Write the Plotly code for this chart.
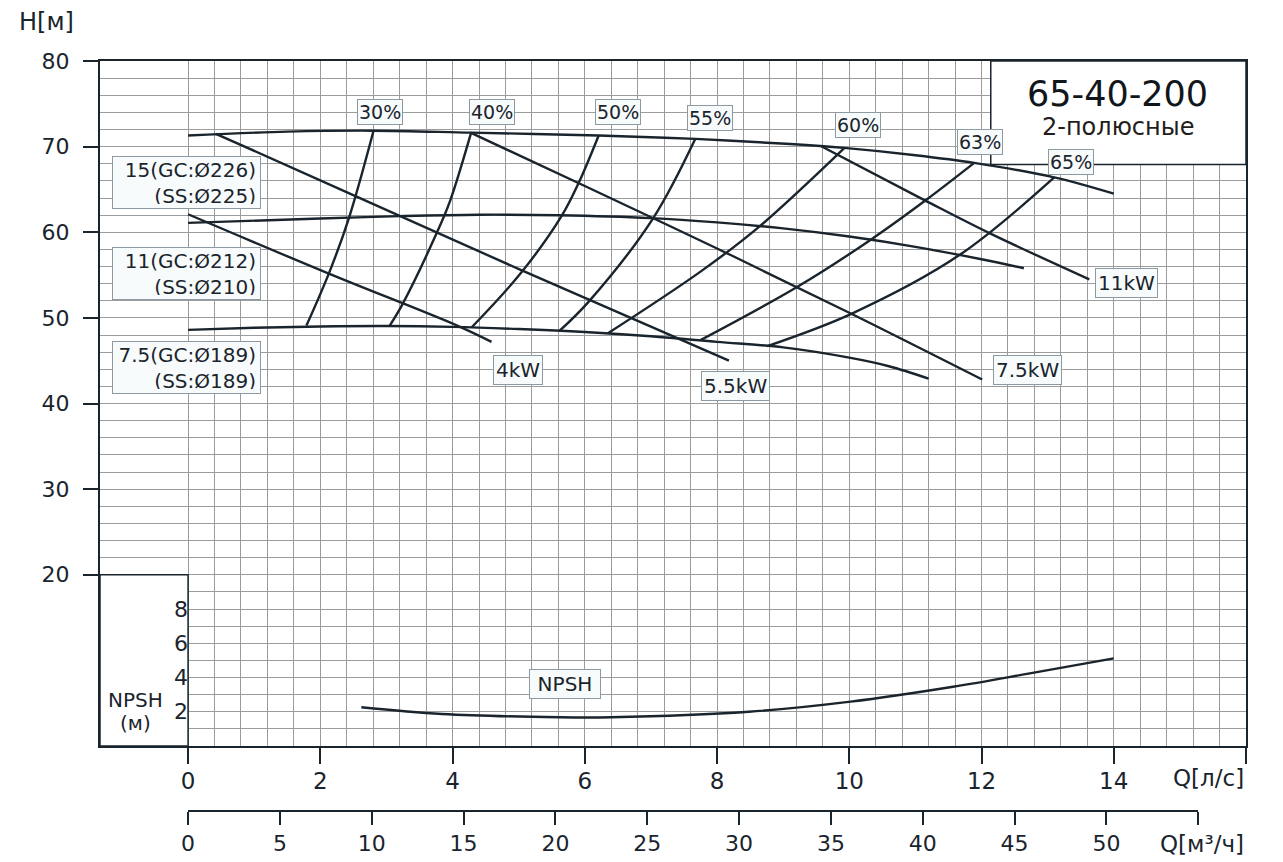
import plotly.graph_objects as go

# ---------------- data (Q in l/s, H in m) ----------------
q_d226 = [0, 1.5, 2.8, 4.28, 6.21, 7.67, 9.11, 9.92, 11.0, 11.89, 13.1, 14.0]
h_d226 = [71.3, 71.75, 71.86, 71.63, 71.3, 70.9, 70.3, 69.85, 69.0, 68.1, 66.4, 64.5]

q_d212 = [0, 2.0, 3.2, 4.4, 5.6, 7.0, 8.0, 9.0, 10.0, 11.0, 12.0, 12.64]
h_d212 = [61.1, 61.6, 61.88, 62.05, 61.98, 61.65, 61.15, 60.45, 59.5, 58.3, 56.85, 55.8]

q_d189 = [0, 1.0, 2.0, 3.0, 4.0, 5.0, 6.0, 7.0, 8.0, 9.0, 10.0, 10.6, 11.2]
h_d189 = [48.6, 48.85, 49.0, 49.05, 48.95, 48.7, 48.35, 47.85, 47.2, 46.55, 45.35, 44.35, 42.9]

q_p4 = [0, 2.12, 4.07, 4.59]
h_p4 = [62.1, 55.2, 49.1, 47.2]
q_p55 = [0.42, 2.54, 5.03, 8.18]
h_p55 = [71.5, 64.2, 55.6, 45.0]
q_p75 = [4.28, 6.0, 8.0, 10.0, 12.01]
h_p75 = [71.6, 65.4, 58.1, 50.6, 42.8]
q_p11 = [9.57, 11.15, 12.12, 13.63]
h_p11 = [70.07, 63.7, 59.9, 54.5]

q_e30 = [1.79, 2.13, 2.43, 2.805]
h_e30 = [49.1, 55.2, 61.6, 71.86]
q_e40 = [3.05, 3.25, 3.76, 3.96, 4.28]
h_e40 = [49.1, 51.7, 59.9, 63.6, 71.6]
q_e50 = [4.29, 5.03, 5.65, 5.91, 6.21]
h_e50 = [48.9, 55.2, 61.9, 65.8, 71.3]
q_e55 = [5.62, 6.06, 7.03, 7.67]
h_e55 = [48.5, 51.9, 61.6, 70.9]
q_e60 = [6.35, 7.75, 8.63, 9.92]
h_e60 = [48.2, 55.4, 60.6, 69.8]
q_e63 = [7.75, 9.21, 10.32, 11.15, 11.89]
h_e63 = [47.4, 53.6, 59.1, 63.7, 68.1]
q_e65 = [8.76, 10.04, 11.66, 13.1]
h_e65 = [46.7, 50.5, 57.3, 66.4]

q_npsh = [2.62, 3.84, 5.62, 6.39, 8.48, 10.02, 11.57, 12.73, 14.0]
v_npsh = [2.26, 1.87, 1.68, 1.68, 2.0, 2.59, 3.46, 4.24, 5.12]

eff_labels = ["30%", "40%", "50%", "55%", "60%", "63%", "65%"]
eff_label_q = [2.90, 4.59, 6.50, 7.89, 10.13, 11.98, 13.36]
eff_label_h = [74.1, 74.1, 74.1, 73.4, 72.5, 70.5, 68.25]

kw_labels = ["4kW", "5.5kW", "7.5kW", "11kW"]
kw_label_q = [4.99, 8.28, 12.69, 14.20]
kw_label_h = [43.95, 42.1, 43.97, 54.07]

imp_labels = ["15(GC:Ø226)<br>(SS:Ø225)", "11(GC:Ø212)<br>(SS:Ø210)", "7.5(GC:Ø189)<br>(SS:Ø189)"]
imp_label_h = [65.81, 55.18, 44.26]

x_ticks = [0, 2, 4, 6, 8, 10, 12, 14, 16]
x_ticktext = ["0", "2", "4", "6", "8", "10", "12", "14", ""]
x2_ticks = [0, 5, 10, 15, 20, 25, 30, 35, 40, 45, 50, 55]
x2_ticktext = ["0", "5", "10", "15", "20", "25", "30", "35", "40", "45", "50", ""]
y_ticks = [20, 30, 40, 50, 60, 70, 80]
npsh_ticks = [2, 4, 6, 8]

# ---------------- styling ----------------
INK = "#1a242d"
GRID = "#9c9c9c"
FONT = "DejaVu Sans"
XMIN, XMAX = -1.332, 16.0
YMIN, YMAX = 0, 80
M3H_MAX = 55
LPS_PER_M3H = 1 / 3.6

fig = go.Figure()

def curve(q, h, yaxis="y"):
    fig.add_trace(go.Scatter(x=q, y=h, mode="lines", yaxis=yaxis,
                             line=dict(color=INK, width=2.4, shape="spline", smoothing=1.0),
                             hoverinfo="skip", showlegend=False))

for q, h in [(q_d226, h_d226), (q_d212, h_d212), (q_d189, h_d189),
             (q_p4, h_p4), (q_p55, h_p55), (q_p75, h_p75), (q_p11, h_p11),
             (q_e30, h_e30), (q_e40, h_e40), (q_e50, h_e50), (q_e55, h_e55),
             (q_e60, h_e60), (q_e63, h_e63), (q_e65, h_e65)]:
    curve(q, h)

curve(q_npsh, v_npsh, yaxis="y2")

# dummy trace to host the m3/h axis
fig.add_trace(go.Scatter(x=[0, M3H_MAX], y=[-5, -5], xaxis="x2", yaxis="y3", mode="lines",
                         line=dict(width=0), hoverinfo="skip", showlegend=False))

# layout geometry
W, Hh = 1283, 862
ml, mr, mt, mb = 100, 37, 61, 51
plot_w = W - ml - mr
plot_h = Hh - mt - mb
y_dom0 = 65 / plot_h
q0_frac = (0 - XMIN) / (XMAX - XMIN)
q55_frac = (M3H_MAX * LPS_PER_M3H - XMIN) / (XMAX - XMIN)

minor_x = [round(0.4 * i, 2) for i in range(0, 41)]
minor_y = list(range(0, 81, 2))

fig.update_layout(
    width=W, height=Hh,
    margin=dict(l=ml, r=mr, t=mt, b=mb, autoexpand=False),
    paper_bgcolor="white", plot_bgcolor="rgba(0,0,0,0)",
    font=dict(family=FONT, color=INK),
    xaxis=dict(range=[XMIN, XMAX], domain=[0, 1], anchor="y", automargin=False,
               tickmode="array", tickvals=x_ticks, ticktext=x_ticktext,
               ticks="outside", ticklen=16, tickwidth=1.5, tickcolor=INK,
               ticklabelstandoff=-3,
               tickfont=dict(size=23, color=INK, family=FONT),
               showgrid=True, gridcolor=GRID, gridwidth=1,
               minor=dict(tickvals=minor_x, showgrid=True, gridcolor=GRID, gridwidth=1, ticks=""),
               showline=True, linecolor=INK, linewidth=2, mirror=True, zeroline=False),
    yaxis=dict(range=[YMIN, YMAX], domain=[y_dom0, 1], anchor="x", automargin=False,
               tickmode="array", tickvals=y_ticks,
               ticks="outside", ticklen=15, tickwidth=1.5, tickcolor=INK,
               ticklabelstandoff=9,
               tickfont=dict(size=22, color=INK, family=FONT),
               showgrid=True, gridcolor=GRID, gridwidth=1,
               minor=dict(tickvals=minor_y, showgrid=True, gridcolor=GRID, gridwidth=1, ticks=""),
               showline=True, linecolor=INK, linewidth=2, mirror=True, zeroline=False),
    yaxis2=dict(range=[0, 40], overlaying="y", anchor="free", position=q0_frac, side="left",
                automargin=False,
                tickmode="array", tickvals=npsh_ticks, ticks="",
                tickfont=dict(size=22, color=INK, family=FONT),
                showgrid=False, showline=False, zeroline=False),
    xaxis2=dict(range=[0, M3H_MAX], domain=[q0_frac, q55_frac], anchor="free", position=0,
                automargin=False,
                tickmode="array", tickvals=x2_ticks, ticktext=x2_ticktext,
                ticks="outside", ticklen=13, tickwidth=1.5, tickcolor=INK,
                tickfont=dict(size=22, color=INK, family=FONT),
                showgrid=False, showline=True, linecolor=INK, linewidth=2, zeroline=False),
    yaxis3=dict(range=[0, 1], domain=[y_dom0, 1], anchor="x2", visible=False, automargin=False),
)

# title box and NPSH box
fig.add_shape(type="rect", xref="x", yref="y", x0=12.14, x1=XMAX, y0=67.9, y1=YMAX,
              fillcolor="white", line=dict(color=INK, width=1.5), layer="between")
fig.add_shape(type="rect", xref="x", yref="y", x0=XMIN, x1=0, y0=0, y1=20,
              fillcolor="white", line=dict(color=INK, width=1.5), layer="between")

# annotations
ann = []
box = dict(bgcolor="#f8fbfb", bordercolor="#8d9aa1", borderwidth=1)
for t, q, h in zip(eff_labels, eff_label_q, eff_label_h):
    ann.append(dict(x=q, y=h, xref="x", yref="y", text=t, showarrow=False,
                    font=dict(size=19, color=INK, family=FONT), borderpad=1, **box))
for t, q, h in zip(kw_labels, kw_label_q, kw_label_h):
    ann.append(dict(x=q, y=h, xref="x", yref="y", text=t, showarrow=False,
                    font=dict(size=20, color=INK, family=FONT), borderpad=2, **box))
for t, h in zip(imp_labels, imp_label_h):
    ann.append(dict(x=-0.02, y=h, xref="x", yref="y", text=t, showarrow=False, align="right",
                    width=139, height=43, borderpad=4,
                    font=dict(size=20, color=INK, family=FONT), **box))
ann.append(dict(x=5.70, y=7.22, xref="x", yref="y", text="NPSH", showarrow=False,
                width=66, borderpad=2, font=dict(size=20, color=INK, family=FONT), **box))

ann.append(dict(x=14.06, y=76.1, xref="x", yref="y", text="65-40-200", showarrow=False,
                font=dict(size=35, color="#11161b", family=FONT)))
ann.append(dict(x=14.06, y=72.3, xref="x", yref="y", text="2-полюсные", showarrow=False,
                font=dict(size=24, color="#231c1a", family=FONT)))

ann.append(dict(x=-0.80, y=5.4, xref="x", yref="y", text="NPSH", showarrow=False,
                font=dict(size=20, color=INK, family=FONT)))
ann.append(dict(x=-0.80, y=2.7, xref="x", yref="y", text="(м)", showarrow=False,
                font=dict(size=20, color=INK, family=FONT)))

ann.append(dict(x=(46.5 - ml) / plot_w, y=(Hh - mb - 22) / plot_h, xref="paper", yref="paper",
                xanchor="center", yanchor="middle",
                text="H[м]", showarrow=False, font=dict(size=24, color=INK, family=FONT)))
ann.append(dict(x=XMAX, y=(Hh - mb - 778) / plot_h, xref="x", yref="paper", xanchor="right",
                yanchor="middle",
                text="Q[л/с]", showarrow=False, font=dict(size=23, color=INK, family=FONT)))
ann.append(dict(x=XMAX, y=(Hh - mb - 844) / plot_h, xref="x", yref="paper", xanchor="right",
                yanchor="middle",
                text="Q[м³/ч]", showarrow=False, font=dict(size=23, color=INK, family=FONT)))

fig.update_layout(annotations=ann)

fig.write_html("out.html", config={"displayModeBar": False},
               post_script="document.body.style.margin='0px';document.body.style.overflow='hidden';")
